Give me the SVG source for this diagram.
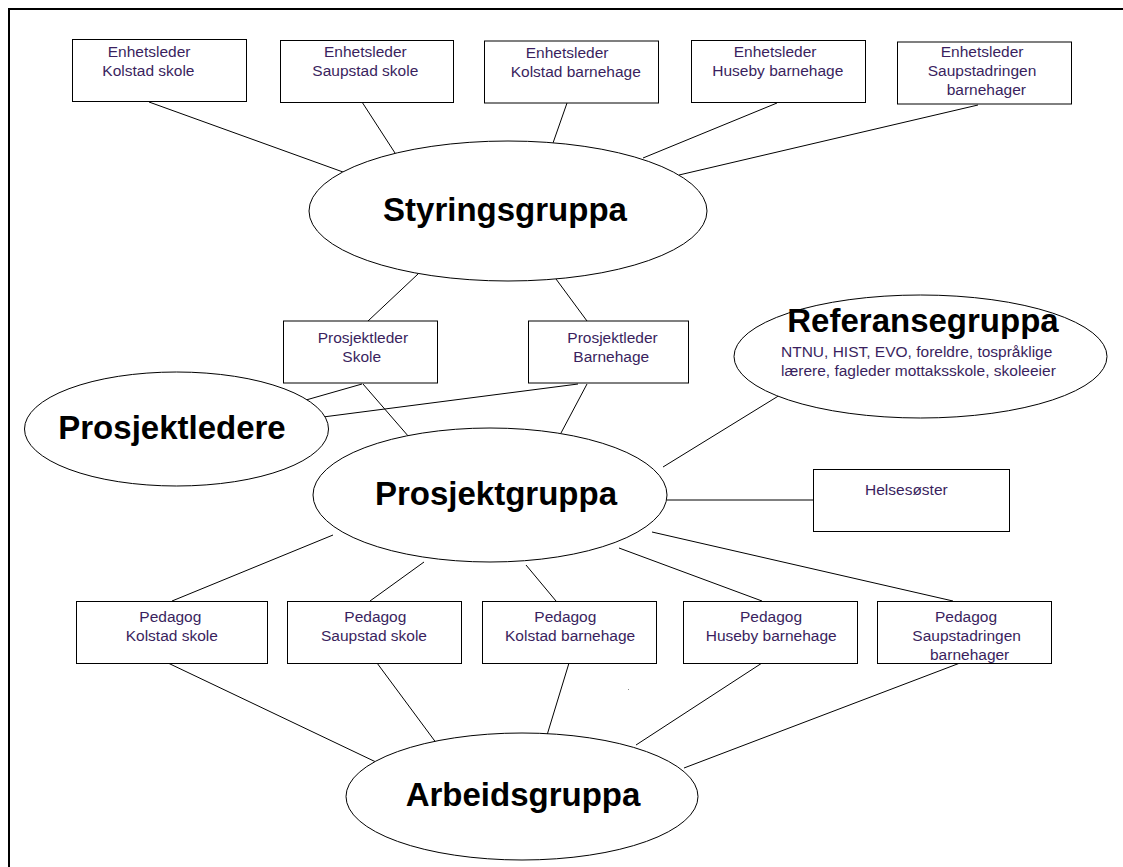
<svg xmlns="http://www.w3.org/2000/svg" width="1123" height="867" viewBox="0 0 1123 867">
<style>
.box{fill:#fff;stroke:#000;stroke-width:1}
.ell{fill:#fff;stroke:#000;stroke-width:1}
.t{font-family:"Liberation Sans",Arial,sans-serif;font-size:15.5px;fill:#3a1f5e}
.h{font-family:"Liberation Sans",Arial,sans-serif;font-size:33px;font-weight:bold;fill:#000;text-anchor:middle}
#connectors line{stroke:#000;stroke-width:1}
</style>
<rect x="0" y="0" width="1123" height="867" fill="#fff"/>
<path d="M9,867 V9 H1123" fill="none" stroke="#000" stroke-width="2"/>
<g id="connectors">
<line x1="149" y1="102" x2="343" y2="172"/>
<line x1="362" y1="102" x2="395" y2="153"/>
<line x1="567" y1="103" x2="553" y2="143"/>
<line x1="777" y1="103" x2="643" y2="158"/>
<line x1="978" y1="105" x2="679" y2="175"/>
<line x1="368" y1="321" x2="418" y2="274"/>
<line x1="587" y1="321" x2="556" y2="279"/>
<line x1="362" y1="384" x2="306" y2="400"/>
<line x1="578" y1="384" x2="323" y2="417"/>
<line x1="363" y1="384" x2="409" y2="437"/>
<line x1="587" y1="384" x2="561" y2="433"/>
<line x1="780" y1="395" x2="663" y2="467"/>
<line x1="667" y1="500" x2="813" y2="500"/>
<line x1="333" y1="535" x2="172" y2="601"/>
<line x1="424" y1="562" x2="370" y2="601"/>
<line x1="526" y1="565" x2="556" y2="601"/>
<line x1="619" y1="548" x2="762" y2="601"/>
<line x1="652" y1="532" x2="953" y2="601"/>
<line x1="168" y1="663" x2="378" y2="763"/>
<line x1="377" y1="663" x2="437" y2="744"/>
<line x1="569" y1="663" x2="544" y2="745"/>
<line x1="762" y1="663" x2="636" y2="745"/>
<line x1="960" y1="663" x2="684" y2="768"/>
</g>
<g id="enh-kolstad-skole">
<rect class="box" x="72.5" y="39.5" width="174" height="62"/>
<text class="t" x="107.7" y="57">Enhetsleder</text>
<text class="t" x="102.3" y="76">Kolstad skole</text>
</g>
<g id="enh-saupstad-skole">
<rect class="box" x="280.5" y="40.5" width="173" height="62"/>
<text class="t" x="324" y="57">Enhetsleder</text>
<text class="t" x="312.3" y="76">Saupstad skole</text>
</g>
<g id="enh-kolstad-barnehage">
<rect class="box" x="484.5" y="41" width="174" height="62"/>
<text class="t" x="525.7" y="57.5">Enhetsleder</text>
<text class="t" x="510.7" y="76.5">Kolstad barnehage</text>
</g>
<g id="enh-huseby-barnehage">
<rect class="box" x="691.5" y="40.5" width="174" height="62"/>
<text class="t" x="733.7" y="57.3">Enhetsleder</text>
<text class="t" x="712.3" y="76">Huseby barnehage</text>
</g>
<g id="enh-saupstadringen">
<rect class="box" x="897.5" y="42" width="174" height="62"/>
<text class="t" x="940.7" y="57">Enhetsleder</text>
<text class="t" x="927.7" y="76">Saupstadringen</text>
<text class="t" x="946.7" y="95">barnehager</text>
</g>
<g id="styringsgruppa">
<ellipse class="ell" cx="508" cy="211" rx="199" ry="70"/>
<text class="h" x="505" y="221">Styringsgruppa</text>
</g>
<g id="prosjektleder-skole">
<rect class="box" x="283.5" y="321" width="154" height="62"/>
<text class="t" x="317.7" y="343.3">Prosjektleder</text>
<text class="t" x="342.3" y="362.3">Skole</text>
</g>
<g id="prosjektleder-barnehage">
<rect class="box" x="528.5" y="321" width="160" height="62"/>
<text class="t" x="567.3" y="343.3">Prosjektleder</text>
<text class="t" x="573.3" y="362.3">Barnehage</text>
</g>
<g id="referansegruppa">
<ellipse class="ell" cx="920.5" cy="356.5" rx="186.5" ry="61.5"/>
<text class="h" x="923" y="332">Referansegruppa</text>
<text class="t" x="781" y="357">NTNU, HIST, EVO, foreldre, tospråklige</text>
<text class="t" x="781" y="376">lærere, fagleder mottaksskole, skoleeier</text>
</g>
<g id="prosjektledere">
<ellipse class="ell" cx="176.5" cy="429" rx="152" ry="57"/>
<text class="h" x="172" y="438.5">Prosjektledere</text>
</g>
<g id="prosjektgruppa">
<ellipse class="ell" cx="490" cy="495" rx="177" ry="67"/>
<text class="h" x="496" y="505">Prosjektgruppa</text>
</g>
<g id="helsesoster">
<rect class="box" x="813.5" y="469.5" width="196" height="62"/>
<text class="t" x="865" y="495">Helsesøster</text>
</g>
<g id="ped-kolstad-skole">
<rect class="box" x="76.5" y="601.5" width="191" height="62"/>
<text class="t" x="139.3" y="622">Pedagog</text>
<text class="t" x="125.7" y="641">Kolstad skole</text>
</g>
<g id="ped-saupstad-skole">
<rect class="box" x="287.5" y="601.5" width="174" height="62"/>
<text class="t" x="344.3" y="622">Pedagog</text>
<text class="t" x="321" y="641">Saupstad skole</text>
</g>
<g id="ped-kolstad-barnehage">
<rect class="box" x="482.5" y="601.5" width="174" height="62"/>
<text class="t" x="534.3" y="622">Pedagog</text>
<text class="t" x="505" y="641">Kolstad barnehage</text>
</g>
<g id="ped-huseby-barnehage">
<rect class="box" x="683.5" y="601.5" width="174" height="62"/>
<text class="t" x="740" y="622">Pedagog</text>
<text class="t" x="705.7" y="641">Huseby barnehage</text>
</g>
<g id="ped-saupstadringen">
<rect class="box" x="877.5" y="601.5" width="174" height="62"/>
<text class="t" x="935" y="622">Pedagog</text>
<text class="t" x="912.3" y="641">Saupstadringen</text>
<text class="t" x="930" y="659.5">barnehager</text>
</g>
<g id="arbeidsgruppa">
<ellipse class="ell" cx="522" cy="796.5" rx="176" ry="63.5"/>
<text class="h" x="523" y="806">Arbeidsgruppa</text>
</g>
<rect x="628" y="689" width="1" height="1" fill="#888"/>
</svg>
